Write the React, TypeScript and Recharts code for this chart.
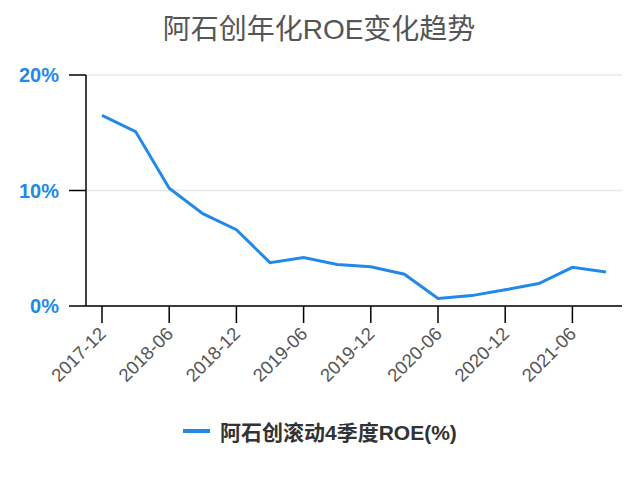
import { LineChart, Line, XAxis, YAxis, CartesianGrid } from "recharts";

const quarters = [
  "2017-12", "2018-03", "2018-06", "2018-09",
  "2018-12", "2019-03", "2019-06", "2019-09",
  "2019-12", "2020-03", "2020-06", "2020-09",
  "2020-12", "2021-03", "2021-06", "2021-09",
];

const roe = [
  16.5, 15.1, 10.2, 8.0,
  6.6, 3.75, 4.2, 3.6,
  3.4, 2.75, 0.65, 0.9,
  1.4, 1.95, 3.35, 2.95,
];

const yTicks = [0, 10, 20];

const seriesName = "阿石创滚动4季度ROE(%)";
const title = "阿石创年化ROE变化趋势";

const BLUE = "#2389e8";
const FONT = "'Liberation Sans', 'Noto Sans CJK SC', sans-serif";

const data = quarters.map((q, i) => ({ q, roe: roe[i] }));

function XTick(props: any) {
  const { x, y, payload } = props;
  return (
    <g transform={`translate(${x + 5},${y + 10})`}>
      <text
        x={0}
        y={0}
        textAnchor="end"
        fill="#555"
        fontSize={18.5}
        fontFamily={FONT}
        transform="rotate(-45)"
      >
        {payload.value}
      </text>
    </g>
  );
}

export default function App() {
  return (
    <div
      style={{
        position: "absolute",
        left: 0,
        top: 0,
        width: 640,
        height: 477,
        background: "#fff",
        fontFamily: FONT,
      }}
    >
      <div
        style={{
          position: "absolute",
          top: 13,
          left: 0,
          width: 638,
          textAlign: "center",
          fontSize: 28,
          lineHeight: "34px",
          color: "#555",
        }}
      >
        {title}
      </div>

      <LineChart
        width={640}
        height={477}
        data={data}
        margin={{ top: 75, right: 18, bottom: 71, left: 0 }}
      >
        <CartesianGrid vertical={false} stroke="#e8e8e8" strokeWidth={1.5} />
        <XAxis
          dataKey="q"
          interval={1}
          tickSize={17}
          height={100}
          padding={{ left: 16, right: 16 }}
          axisLine={{ stroke: "#000", strokeWidth: 1.5 }}
          tickLine={{ stroke: "#000", strokeWidth: 1.5 }}
          tick={<XTick />}
        />
        <YAxis
          domain={[0, 20]}
          ticks={yTicks}
          width={86}
          tickSize={17}
          tickMargin={10}
          tickFormatter={(v: number) => `${v}%`}
          axisLine={{ stroke: "#000", strokeWidth: 1.5 }}
          tickLine={{ stroke: "#000", strokeWidth: 1.5 }}
          tick={{ fill: BLUE, fontSize: 20, fontWeight: "bold", fontFamily: FONT }}
        />
        <Line
          type="linear"
          dataKey="roe"
          stroke={BLUE}
          strokeWidth={3}
          dot={false}
          isAnimationActive={false}
        />
      </LineChart>

      <div
        style={{
          position: "absolute",
          top: 418,
          left: 183,
          display: "flex",
          alignItems: "center",
          height: 26,
        }}
      >
        <span
          style={{
            display: "inline-block",
            width: 27,
            height: 4,
            background: BLUE,
            marginRight: 10,
          }}
        />
        <span style={{ fontSize: 21, fontWeight: "bold", color: "#333" }}>
          {seriesName}
        </span>
      </div>
    </div>
  );
}
